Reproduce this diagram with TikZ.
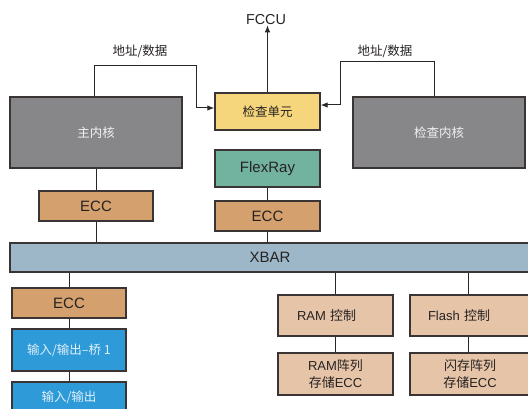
\documentclass[tikz,border=0pt]{standalone}
\usepackage{fontspec}
\setmainfont{Liberation Sans}
\newfontfamily\cjk{Noto Sans CJK SC}
\usetikzlibrary{arrows.meta}
\definecolor{bordc}{HTML}{3B3434}
\definecolor{linec}{HTML}{2A2626}
\definecolor{corec}{HTML}{87878A}
\definecolor{chkc}{HTML}{F6D67C}
\definecolor{flexc}{HTML}{72B3A0}
\definecolor{eccc}{HTML}{D3A06E}
\definecolor{xbarc}{HTML}{9DB7C8}
\definecolor{ioc}{HTML}{2E9AD8}
\definecolor{memc}{HTML}{E6C4A8}
\definecolor{txtc}{HTML}{262222}
\tikzset{
  box/.style={draw=bordc, line width=1.4pt, inner sep=0pt, text=txtc, align=center},
  core/.style={box, fill=corec, text=white!88!corec, font=\cjk\fontsize{12.5}{14}\selectfont},
  latin/.style={font=\fontsize{15}{17}\selectfont},
  cjkbox/.style={font=\cjk\fontsize{12.5}{17}\selectfont},
  conn/.style={draw=linec, line width=1pt},
  arr/.style={conn, -{Latex[length=7pt,width=5.5pt]}},
  lbl/.style={text=txtc, inner sep=0pt, font=\cjk\fontsize{12.5}{14}\selectfont},
}
\begin{document}
\begin{tikzpicture}[x=1pt,y=-1pt]
\useasboundingbox (0,0) rectangle (528,409);
\begin{scope}
\clip (0,0) rectangle (528,409);
% nodes
\node[lbl, font=\fontsize{14.4}{16}\selectfont] (fccu) at (266,20) {FCCU};
\node[box, fill=chkc, cjkbox, minimum width=105pt, minimum height=37pt] (chk) at (267.5,111.5) {检查单元};
\node[core, minimum width=172pt, minimum height=71pt] (main) at (96,132.5) {主内核};
\node[core, minimum width=172pt, minimum height=71pt] (chkcore) at (439,132.5) {检查内核};
\node[box, fill=flexc, latin, minimum width=105pt, minimum height=37pt] (flex) at (267.5,168.5) {FlexRay};
\node[box, fill=eccc, latin, minimum width=105pt, minimum height=30pt] (ecc2) at (267.5,216) {ECC};
\node[box, fill=eccc, latin, minimum width=114pt, minimum height=30pt] (ecc1) at (96,206) {ECC};
\node[box, fill=xbarc, latin, minimum width=520pt, minimum height=29pt] (xbar) at (270,257.5) {XBAR};
\node[box, fill=eccc, latin, minimum width=114pt, minimum height=30pt] (ecc3) at (69,303) {ECC};
\node[box, fill=ioc, cjkbox, text=white!85!ioc, minimum width=114pt, minimum height=42pt] (io1) at (69,350) {输入/输出–桥 1};
\node[box, fill=ioc, cjkbox, text=white!85!ioc, minimum width=114pt, minimum height=30pt] (io2) at (69,397) {输入/输出};
\node[box, fill=memc, font=\fontsize{13}{15}\selectfont, minimum width=115pt, minimum height=41pt, text width=77pt, inner xsep=19pt, align=left] (ramc) at (335.5,315.5) {RAM {\cjk 控制}};
\node[box, fill=memc, font=\fontsize{13}{15}\selectfont, minimum width=120pt, minimum height=41pt, text width=84pt, inner xsep=18pt, align=left] (flashc) at (470,315.5) {Flash {\cjk 控制}};
\node[box, fill=memc, font=\fontsize{13}{16.5}\selectfont, minimum width=115pt, minimum height=42pt] (rama) at (335.5,374) {RAM{\cjk 阵列}\\{\cjk 存储}ECC};
\node[box, fill=memc, font=\fontsize{13}{16.5}\selectfont, minimum width=120pt, minimum height=42pt] (flasha) at (470,374) {{\cjk 闪存阵列}\\{\cjk 存储}ECC};
% labels
\node[lbl] (lblL) at (140,51) {地址/数据};
\node[lbl] (lblR) at (385,51) {地址/数据};
% connectors
\draw[arr] (chk.north) -- (chk.north |- fccu.south);
\coordinate (pL) at (196,66);
\coordinate (pR) at (340,62);
\draw[arr] ([xshift=-2pt]main.north) |- (pL) |- ([yshift=3.5pt]chk.west);
\draw[arr] ([xshift=-5pt]chkcore.north) |- (pR) |- ([yshift=6.5pt]chk.east);
\draw[conn] (main.south -| ecc1.north) -- (ecc1.north);
\draw[conn] (ecc1.south) -- (ecc1.south |- xbar.north);
\draw[conn] (flex.south) -- (ecc2.north);
\draw[conn] (ecc2.south) -- (ecc2.south |- xbar.north);
\draw[conn] (ecc3.north |- xbar.south) -- (ecc3.north);
\draw[conn] (ecc3.south) -- (io1.north);
\draw[conn] (io1.south) -- (io2.north);
\draw[conn] (ramc.north |- xbar.south) -- (ramc.north);
\draw[conn] (ramc.south) -- (rama.north);
\draw[conn] ([xshift=-2pt]flashc.north |- xbar.south) -- ([xshift=-2pt]flashc.north);
\draw[conn] ([xshift=-2pt]flashc.south) -- ([xshift=-2pt]flasha.north);
\end{scope}
\end{tikzpicture}
\end{document}
